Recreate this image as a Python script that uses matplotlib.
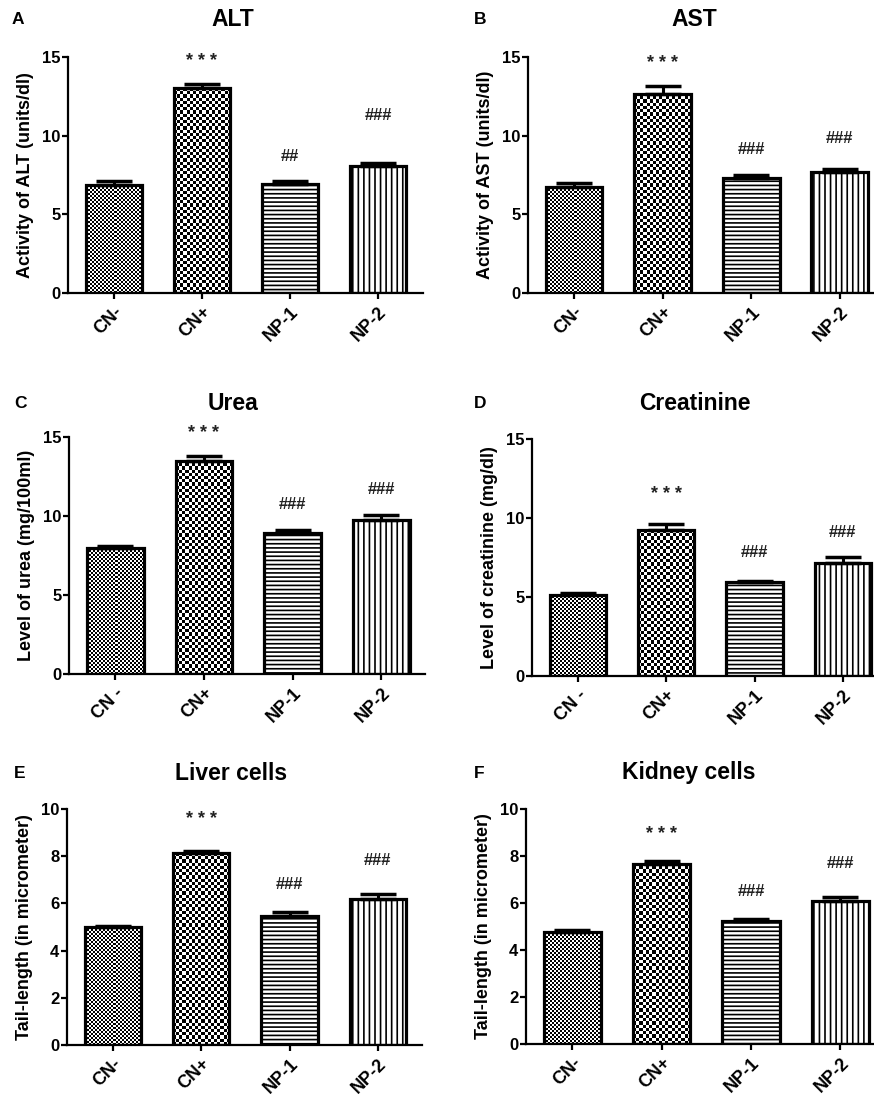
import numpy as np
import matplotlib
matplotlib.use("Agg")
import matplotlib.pyplot as plt

plt.rcParams['font.family'] = ['Liberation Sans', 'DejaVu Sans']
plt.rcParams['hatch.linewidth'] = 1.2

groups = ["CN-", "CN+", "NP-1", "NP-2"]
groups_sp = ["CN -", "CN+", "NP-1", "NP-2"]

alt_mean = [6.85, 13.0, 6.95, 8.1]
alt_err = [0.25, 0.27, 0.17, 0.15]
ast_mean = [6.72, 12.68, 7.33, 7.72]
ast_err = [0.28, 0.45, 0.2, 0.17]
urea_mean = [7.97, 13.5, 8.92, 9.72]
urea_err = [0.14, 0.32, 0.2, 0.36]
creat_mean = [5.13, 9.21, 5.92, 7.14]
creat_err = [0.1, 0.4, 0.1, 0.42]
liver_mean = [4.99, 8.12, 5.47, 6.18]
liver_err = [0.07, 0.08, 0.15, 0.23]
kidney_mean = [4.75, 7.66, 5.23, 6.09]
kidney_err = [0.08, 0.12, 0.11, 0.16]

# significance marks and the heights they sit at
alt_marks = ["", "***", "##", "###"]
alt_mark_y = [None, 14.7, 8.7, 11.3]
ast_marks = ["", "***", "###", "###"]
ast_mark_y = [None, 14.6, 9.15, 9.8]
urea_marks = ["", "***", "###", "###"]
urea_mark_y = [None, 15.2, 10.7, 11.7]
creat_marks = ["", "***", "###", "###"]
creat_mark_y = [None, 11.5, 7.8, 9.1]
liver_marks = ["", "***", "###", "###"]
liver_mark_y = [None, 9.55, 6.8, 7.8]
kidney_marks = ["", "***", "###", "###"]
kidney_mark_y = [None, 8.9, 6.5, 7.7]

W, H = 874, 1094
fig = plt.figure(figsize=(W / 100, H / 100), dpi=100)


def px_axes(left, top, right, bottom):
    return fig.add_axes([left / W, 1 - bottom / H, (right - left) / W, (bottom - top) / H])


def add_checker(ax, bar, cell):
    x0, w, h = bar.get_x(), bar.get_width(), bar.get_height()
    (a, b), (c, d) = ax.transData.transform([(x0, 0), (x0 + w, h)])
    nx = max(1, int(round((c - a) / cell)))
    ny = max(1, int(round((d - b) / cell)))
    img = np.add.outer(np.arange(ny), np.arange(nx)) % 2
    ax.imshow(img, cmap='gray', extent=(x0, x0 + w, 0, h), aspect='auto',
              interpolation='nearest', origin='lower', zorder=2)


def panel(box, xlim, ymax, yticks, means, errs, marks, mark_y, labels,
          ylabel, title, title_x, title_y, letter, letter_x):
    ax = px_axes(*box)
    ax.set_xlim(*xlim)
    ax.set_ylim(0, ymax)
    x = np.arange(len(means))
    bars = ax.bar(x, means, width=0.64, facecolor='none', edgecolor='black',
                  linewidth=2.3, zorder=3)
    bars[2].set_hatch('----')
    bars[3].set_hatch('|||')
    ax.errorbar(x, means, yerr=[np.zeros(len(errs)), errs], fmt='none',
                ecolor='black', elinewidth=2.2, capsize=13, capthick=2.5, zorder=4)
    add_checker(ax, bars[0], 2)
    add_checker(ax, bars[1], 3.2)
    ax.set_xlim(*xlim)
    ax.set_ylim(0, ymax)
    for xi, m, my in zip(x, marks, mark_y):
        if m:
            if m.startswith('*'):
                ax.text(xi, my, ' '.join(m), ha='center', va='center', fontsize=13,
                        fontweight='bold', color='#222222', zorder=5)
            else:
                ax.text(xi, my, m, ha='center', va='center', fontsize=12,
                        fontweight='bold', color='#222222', zorder=5)
    ax.spines['top'].set_visible(False)
    ax.spines['right'].set_visible(False)
    ax.spines['left'].set_linewidth(1.6)
    ax.spines['bottom'].set_linewidth(1.6)
    ax.set_yticks(yticks)
    ax.set_xticks(x)
    ax.set_xticklabels(labels, rotation=45, ha='right', rotation_mode='anchor',
                       fontsize=13, fontweight='bold')
    for t in ax.get_yticklabels():
        t.set_fontweight('bold')
        t.set_fontsize(12)
    ax.tick_params(axis='both', width=1.6, length=4.5, direction='out')
    ax.tick_params(axis='y', pad=1)
    ax.tick_params(axis='x', pad=3)
    ax.set_ylabel(ylabel, fontsize=13, fontweight='bold', labelpad=6)
    fig.text(title_x / W, 1 - title_y / H, title, ha='center', va='center',
             fontsize=16.5, fontweight='bold')
    fig.text(letter_x / W, 1 - title_y / H, letter, ha='left', va='center',
             fontsize=12.5, fontweight='bold')
    return ax


panel((68, 57, 423, 293), (-0.52, 3.51), 15, [0, 5, 10, 15], alt_mean, alt_err,
      alt_marks, alt_mark_y, groups, "Activity of ALT (units/dl)", "ALT", 233, 20, "A", 12)
panel((528, 57, 885, 293), (-0.52, 3.51), 15, [0, 5, 10, 15], ast_mean, ast_err,
      ast_marks, ast_mark_y, groups, "Activity of AST (units/dl)", "AST", 694, 20, "B", 474)
panel((69, 437, 425, 674), (-0.52, 3.49), 15, [0, 5, 10, 15], urea_mean, urea_err,
      urea_marks, urea_mark_y, groups_sp, "Level of urea (mg/100ml)", "Urea", 233, 403, "C", 14)
panel((532, 439, 887, 676), (-0.52, 3.5), 15, [0, 5, 10, 15], creat_mean, creat_err,
      creat_marks, creat_mark_y, groups_sp, "Level of creatinine (mg/dl)", "Creatinine", 695, 404, "D", 474)
panel((67, 809, 422, 1045), (-0.52, 3.5), 10, [0, 2, 4, 6, 8, 10], liver_mean, liver_err,
      liver_marks, liver_mark_y, groups, "Tail-length (in micrometer)", "Liver cells", 231, 773, "E", 14)
panel((526, 809, 885, 1044), (-0.52, 3.5), 10, [0, 2, 4, 6, 8, 10], kidney_mean, kidney_err,
      kidney_marks, kidney_mark_y, groups, "Tail-length (in micrometer)", "Kidney cells", 689, 773, "F", 474)

fig.savefig("out.png", dpi=100)
